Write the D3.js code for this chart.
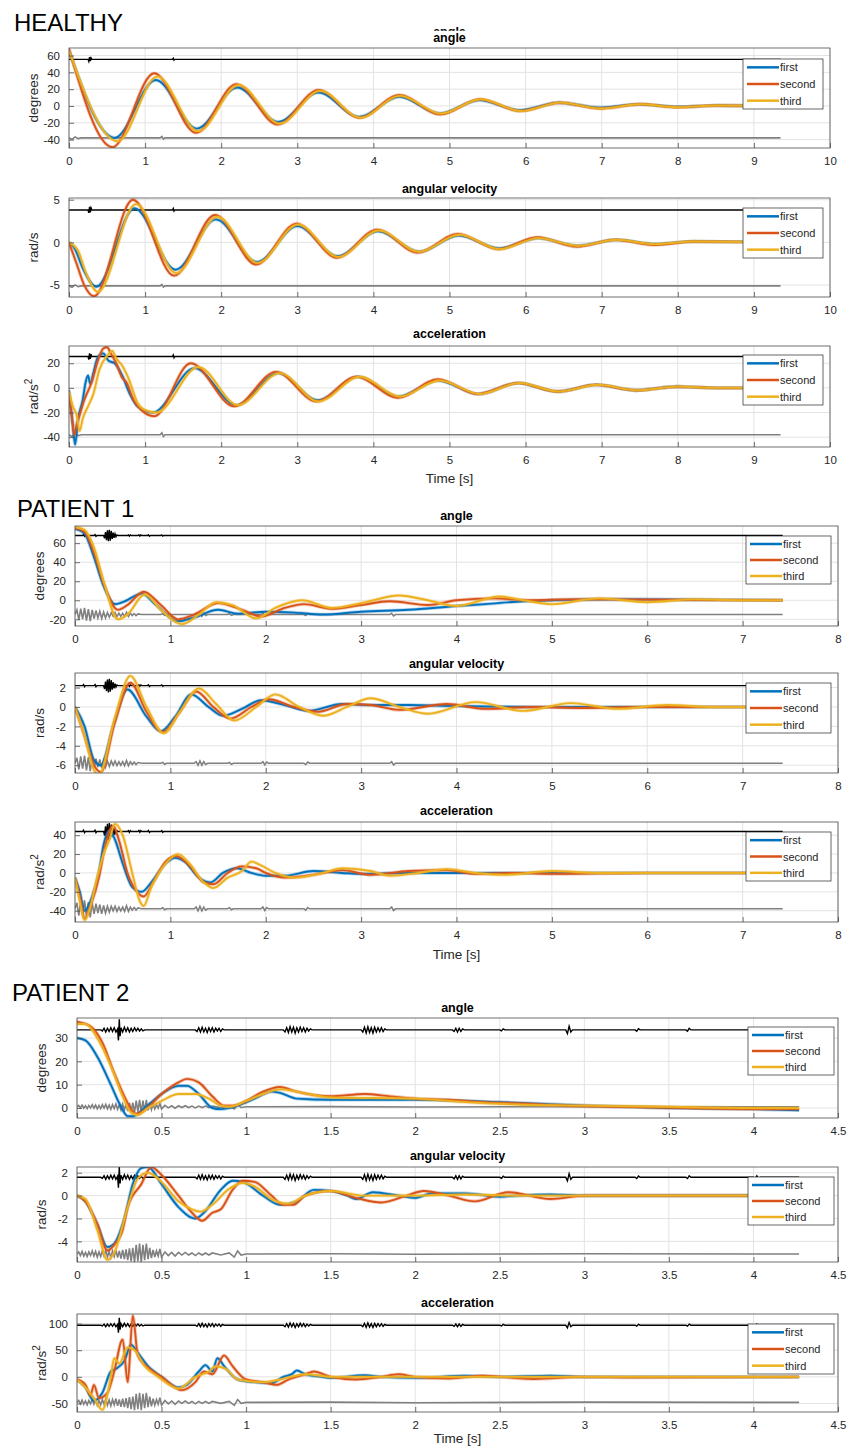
<!DOCTYPE html>
<html>
<head>
<meta charset="utf-8">
<script src="https://cdn.jsdelivr.net/npm/d3@7"></script>
<style>
  body { margin: 0; background: #fff; }
  svg { display: block; font-family: "Liberation Sans", Arial, sans-serif; }
</style>
</head>
<body>
<div id="chart"></div>
<script>
// ---- series names / colours
const seriesNames = ["first", "second", "third"];
const seriesColors = ["#0072BD", "#D95319", "#EDB120"];

// ---- HEALTHY  [time s, value]
const hAngleFirst  = [[0,66],[0.6,-38],[1.14,31],[1.68,-27],[2.21,22],[2.75,-19],[3.28,16],[3.81,-13],[4.34,11],[4.87,-9],[5.39,7],[5.92,-5],[6.44,4],[6.97,-2],[7.48,2],[8.0,-1],[8.5,0.5],[9.35,0]];
const hAngleSecond = [[0,68],[0.57,-49],[1.12,39],[1.67,-32],[2.2,26],[2.74,-22],[3.28,19],[3.82,-14],[4.34,13],[4.88,-10],[5.4,8],[5.93,-6],[6.45,4],[6.98,-3],[7.5,2],[8.0,-1.5],[8.5,0.5],[9.35,0]];
const hAngleThird  = [[0,66],[0.64,-42],[1.16,35],[1.7,-30],[2.23,25],[2.77,-21],[3.3,18],[3.83,-14],[4.35,12],[4.89,-9],[5.41,8],[5.94,-6],[6.46,4],[6.99,-3],[7.5,2],[8.0,-1.5],[8.5,0.5],[9.35,0]];

const hVelFirst  = [[0,0],[0.08,-0.8],[0.18,-3],[0.36,-5.2],[0.86,4.0],[1.4,-3.2],[1.93,2.7],[2.47,-2.3],[3.0,1.9],[3.53,-1.6],[4.06,1.3],[4.6,-1.1],[5.12,0.8],[5.65,-0.7],[6.17,0.5],[6.68,-0.4],[7.2,0.3],[7.7,-0.2],[8.2,0.1],[9.35,0]];
const hVelSecond = [[0,0],[0.1,-2.5],[0.2,-5.0],[0.33,-6.3],[0.84,5.0],[1.38,-3.9],[1.92,3.2],[2.46,-2.6],[2.99,2.2],[3.52,-1.8],[4.05,1.5],[4.58,-1.2],[5.11,1.0],[5.64,-0.8],[6.15,0.6],[6.67,-0.5],[7.18,0.3],[7.7,-0.3],[8.2,0.1],[9.35,0]];
const hVelThird  = [[0,0],[0.12,-1.0],[0.22,-3.5],[0.38,-5.8],[0.88,4.5],[1.41,-3.6],[1.95,3.0],[2.48,-2.4],[3.01,2.1],[3.54,-1.7],[4.07,1.4],[4.6,-1.1],[5.13,0.9],[5.66,-0.8],[6.17,0.5],[6.69,-0.4],[7.2,0.3],[7.7,-0.2],[8.2,0.1],[9.35,0]];

const hAccFirst  = [[0,-2],[0.05,-30],[0.08,-46],[0.12,-25],[0.18,-10],[0.22,5],[0.25,10],[0.28,3],[0.32,12],[0.38,25],[0.45,28],[0.52,22],[0.6,20],[0.7,10],[0.8,-5],[0.9,-15],[1.1,-20],[1.65,16],[2.2,-14],[2.75,12],[3.27,-10],[3.8,9],[4.33,-7],[4.85,6],[5.38,-5],[5.9,4],[6.42,-3],[6.93,2.5],[7.45,-2],[7.98,1],[8.5,0],[9.35,0]];
const hAccSecond = [[0,-5],[0.04,-25],[0.07,-38],[0.1,-30],[0.15,-20],[0.2,-10],[0.3,5],[0.38,22],[0.45,32],[0.5,33],[0.55,28],[0.62,20],[0.7,8],[0.75,5],[0.85,-10],[0.95,-18],[1.12,-23],[1.6,20],[2.17,-15],[2.72,13],[3.25,-11],[3.78,9],[4.32,-8],[4.85,7],[5.37,-5],[5.9,4],[6.42,-3],[6.93,2.5],[7.45,-2],[8.0,1],[8.5,0],[9.35,0]];
const hAccThird  = [[0,-3],[0.05,-15],[0.1,-22],[0.14,-35],[0.18,-25],[0.25,-15],[0.32,-5],[0.4,15],[0.5,26],[0.57,30],[0.62,24],[0.7,18],[0.78,8],[0.9,-12],[1.0,-18],[1.15,-20],[1.7,17],[2.22,-14],[2.77,12],[3.28,-11],[3.82,9],[4.35,-7],[4.87,6],[5.4,-5],[5.92,4],[6.43,-3],[6.95,2.5],[7.47,-2],[8.0,1],[8.5,0],[9.35,0]];

// ---- PATIENT 1
const p1AngleFirst  = [[0,75],[0.1,70],[0.2,45],[0.3,15],[0.42,-4],[0.5,-2],[0.7,7],[0.85,-5],[1.08,-22],[1.25,-18],[1.5,-10],[1.7,-14],[2.0,-12],[2.3,-13],[2.6,-15],[3.0,-12],[3.5,-10],[4.0,-6],[4.3,-4],[4.7,-1],[5.0,0],[5.5,1],[6.0,1],[7.42,0]];
const p1AngleSecond = [[0,76],[0.1,72],[0.2,50],[0.3,18],[0.45,-10],[0.55,-5],[0.72,9],[0.9,-5],[1.08,-20],[1.25,-15],[1.5,-3],[1.75,-10],[1.95,-17],[2.2,-8],[2.4,-4],[2.7,-9],[3.0,-5],[3.3,-1],[3.7,-5],[4.0,0],[4.4,2],[4.8,0],[5.2,1],[5.6,1],[6.2,0.5],[7.42,0]];
const p1AngleThird  = [[0,77],[0.1,74],[0.2,55],[0.3,20],[0.45,-20],[0.55,-15],[0.73,6],[0.9,-10],[1.12,-25],[1.3,-15],[1.48,-2],[1.65,-5],[1.9,-19],[2.1,-8],[2.38,0],[2.7,-8],[3.0,-3],[3.4,5],[3.7,0],[4.0,-6],[4.45,4],[4.7,0],[5.0,-4],[5.5,2],[6.0,-2],[6.5,1],[7.0,0],[7.42,0]];

const p1VelFirst  = [[0,0],[0.1,-2],[0.2,-5.5],[0.27,-6],[0.4,-2],[0.55,1.8],[0.75,-1],[0.9,-2.5],[1.05,-1],[1.22,1.3],[1.4,0],[1.55,-0.9],[1.75,-0.2],[1.95,0.7],[2.2,0.2],[2.45,-0.4],[2.8,0.3],[3.1,0.2],[3.5,0.2],[4.0,0.1],[5.0,0],[7.42,0]];
const p1VelSecond = [[0,0],[0.1,-3],[0.2,-6],[0.27,-6.7],[0.42,-1.5],[0.58,2.5],[0.75,-0.5],[0.92,-2.6],[1.1,-0.5],[1.27,1.6],[1.45,0],[1.63,-1.2],[1.85,0],[2.03,0.8],[2.3,0],[2.55,-0.5],[2.85,0.3],[3.1,0.2],[3.4,-0.3],[3.9,0.3],[4.3,-0.2],[4.8,0],[5.3,-0.1],[6.0,0],[7.42,0]];
const p1VelThird  = [[0,0],[0.1,-3],[0.2,-6.5],[0.25,-7],[0.42,-1],[0.58,3.2],[0.75,0],[0.93,-2.7],[1.1,-0.5],[1.3,1.9],[1.48,0.3],[1.67,-1.4],[1.9,0],[2.1,1.3],[2.35,0],[2.6,-0.9],[2.85,0],[3.1,0.9],[3.4,0],[3.7,-0.7],[4.2,0.5],[4.7,-0.4],[5.2,0.4],[5.7,-0.2],[6.2,0.2],[6.7,0],[7.42,0]];

const p1AccFirst  = [[0,-5],[0.05,-20],[0.1,-40],[0.18,-25],[0.25,0],[0.3,30],[0.36,45],[0.42,35],[0.5,10],[0.6,-15],[0.7,-20],[0.8,-10],[0.95,10],[1.05,16],[1.15,12],[1.3,-5],[1.42,-10],[1.55,0],[1.7,5],[1.85,0],[2.0,-3],[2.2,-3],[2.5,2],[2.8,0],[3.0,-1],[3.5,0],[4.0,0],[5.0,0],[7.42,0]];
const p1AccSecond = [[0,-5],[0.05,-25],[0.1,-48],[0.18,-30],[0.25,-5],[0.32,30],[0.4,50],[0.46,35],[0.55,0],[0.65,-20],[0.72,-25],[0.82,-10],[0.95,12],[1.06,18],[1.2,8],[1.35,-10],[1.45,-12],[1.6,0],[1.75,7],[1.9,5],[2.0,0],[2.2,-5],[2.5,-2],[2.8,3],[3.1,-2],[3.5,2],[3.9,3],[4.2,-1],[4.6,0],[5.0,-1],[6.0,0],[7.42,0]];
const p1AccThird  = [[0,-5],[0.05,-30],[0.1,-50],[0.15,-40],[0.22,-10],[0.3,20],[0.36,35],[0.42,52],[0.5,40],[0.6,0],[0.68,-30],[0.72,-35],[0.8,-15],[0.95,10],[1.08,20],[1.2,10],[1.35,-10],[1.45,-16],[1.6,-5],[1.75,2],[1.85,12],[1.95,8],[2.1,0],[2.3,-5],[2.6,0],[2.8,5],[3.1,2],[3.3,-3],[3.6,0],[3.9,4],[4.2,0],[4.5,-2],[5.0,2],[5.5,0],[6.0,0],[7.42,0]];

// ---- PATIENT 2
const p2AngleFirst  = [[0,30],[0.05,29],[0.12,22],[0.2,10],[0.25,2],[0.3,-3.5],[0.33,-3.5],[0.4,0],[0.5,6],[0.6,9.5],[0.65,9.5],[0.72,6],[0.8,0],[0.85,-0.5],[0.9,0],[1.05,4],[1.15,7],[1.2,6.5],[1.3,4],[1.5,3.5],[2.0,3.5],[2.5,2.5],[3.0,1],[3.5,0],[4.0,-0.5],[4.27,-1]];
const p2AngleSecond = [[0,37],[0.08,35],[0.15,28],[0.22,15],[0.28,5],[0.32,-0.5],[0.35,-2.5],[0.4,-1],[0.5,6],[0.6,11],[0.65,12.5],[0.72,11],[0.8,5],[0.87,1],[0.92,1],[1.0,3],[1.1,7],[1.2,9],[1.3,7],[1.5,5],[1.7,6],[1.85,5],[2.0,4],[2.2,3.5],[2.4,2.5],[2.6,2],[2.9,1],[3.2,0.5],[3.6,0],[4.0,-0.5],[4.27,-0.5]];
const p2AngleThird  = [[0,36],[0.05,36],[0.12,30],[0.2,18],[0.27,5],[0.32,-2],[0.36,-3],[0.42,0],[0.5,3],[0.6,6],[0.7,6],[0.78,4],[0.85,1],[0.9,0.5],[1.0,3],[1.1,6],[1.2,8],[1.3,7],[1.5,4.5],[2.0,4],[2.3,2.5],[2.6,1.5],[3.0,1],[3.5,0.5],[4.0,0],[4.27,0]];

const p2VelFirst  = [[0,0],[0.05,-0.5],[0.12,-2.5],[0.18,-4.5],[0.22,-4.2],[0.28,-2],[0.33,1],[0.38,2.4],[0.42,2.5],[0.5,1],[0.6,-1],[0.7,-2],[0.75,-1.5],[0.85,0.5],[0.92,1.3],[0.98,1.2],[1.1,0],[1.2,-0.8],[1.3,-0.5],[1.4,0.5],[1.5,0.4],[1.6,0],[1.65,-0.3],[1.75,0.3],[1.9,0],[2.0,-0.2],[2.1,0.2],[2.3,0.2],[2.5,-0.1],[2.6,0],[2.8,0.1],[3.0,0],[4.27,0]];
const p2VelSecond = [[0,0],[0.05,-0.5],[0.12,-2.5],[0.18,-4.8],[0.22,-4.3],[0.27,-3],[0.3,-1],[0.38,1],[0.44,2.5],[0.5,1.8],[0.6,0],[0.68,-1.5],[0.74,-2.2],[0.8,-1.5],[0.85,-1.2],[0.92,0.5],[0.98,1.3],[1.05,1.2],[1.15,0],[1.22,-0.8],[1.28,-0.8],[1.35,0],[1.5,0.4],[1.65,-0.2],[1.8,-0.6],[1.95,0],[2.05,0.4],[2.2,0],[2.35,-0.5],[2.55,0.3],[2.8,-0.3],[3.0,0],[3.5,0],[4.27,0]];
const p2VelThird  = [[0,0],[0.05,-0.3],[0.12,-3],[0.18,-5.6],[0.22,-5],[0.3,-1],[0.36,1.5],[0.42,2],[0.5,1.2],[0.6,-0.5],[0.68,-1.2],[0.73,-1.4],[0.8,-0.8],[0.9,0.6],[0.98,1.1],[1.05,0.8],[1.15,-0.3],[1.25,-0.7],[1.35,0],[1.5,0.4],[1.7,0],[2.0,0],[2.3,0.1],[2.6,0],[4.27,0]];

const p2AccFirst  = [[0,-5],[0.05,-20],[0.1,-45],[0.15,-30],[0.2,10],[0.23,15],[0.28,30],[0.32,60],[0.36,45],[0.42,20],[0.5,0],[0.6,-20],[0.65,-15],[0.72,10],[0.76,22],[0.8,10],[0.83,35],[0.87,20],[0.95,-5],[1.05,-10],[1.15,-12],[1.22,0],[1.27,5],[1.3,12],[1.35,5],[1.45,0],[1.5,-2],[1.7,3],[1.8,0],[2.0,-2],[2.3,2],[2.5,0],[2.8,2],[3.0,0],[4.27,0]];
const p2AccSecond = [[0,-5],[0.05,-15],[0.08,-35],[0.1,-15],[0.13,-40],[0.18,-30],[0.22,10],[0.27,70],[0.3,-10],[0.33,115],[0.36,40],[0.43,15],[0.5,0],[0.62,-25],[0.7,-10],[0.75,10],[0.8,5],[0.87,40],[0.92,20],[1.0,-5],[1.1,-10],[1.18,-15],[1.25,-5],[1.35,5],[1.4,10],[1.5,0],[1.65,-5],[1.8,0],[1.9,5],[2.0,0],[2.2,-3],[2.4,2],[2.7,-4],[3.0,0],[3.3,-1],[4.27,0]];
const p2AccThird  = [[0,-5],[0.05,-20],[0.1,-40],[0.15,-62],[0.2,0],[0.22,35],[0.25,25],[0.3,55],[0.34,50],[0.4,20],[0.48,0],[0.6,-22],[0.7,0],[0.78,10],[0.82,20],[0.88,15],[0.95,-5],[1.1,-10],[1.2,-5],[1.35,5],[1.5,0],[1.7,0],[2.0,0],[4.27,0]];

// ---- reference traces (black on top, grey at bottom): shape [t, normalised deviation]
const hTopShape = [[0,0],[0.25,0],[0.26,-1],[0.27,1],[0.28,-0.8],[0.29,0.7],[0.3,0],[1.36,0],[1.37,0.5],[1.38,-0.4],[1.39,0],[9.35,0]];
const hBotShape = [[0,0],[0.04,-0.8],[0.08,0.6],[0.12,-0.4],[0.16,0],[1.2,0],[1.22,0.8],[1.24,-0.7],[1.26,0],[9.35,0]];
const hTopLevel = [55.5, 3.8, 25.5];
const hTopAmp   = [2.5, 0.35, 2.5];
const hBotLevel = [-38, -5.1, -38];
const hBotAmp   = [2, 0.2, 2];

const p1TopShape = [[0,0],[0.08,0],[0.09,0.15],[0.1,-0.15],[0.11,0],[0.2,0],[0.21,0.15],[0.22,-0.15],[0.23,0],[0.3,0],[0.31,-0.5],[0.32,0.6],[0.33,-0.8],[0.34,0.9],[0.35,-1],[0.36,1],[0.37,-0.9],[0.38,0.8],[0.39,-0.6],[0.4,0.5],[0.41,-0.4],[0.42,0.3],[0.43,-0.2],[0.44,0.1],[0.45,0],[0.55,0],[0.56,0.1],[0.57,-0.12],[0.58,0.1],[0.59,0],[0.66,0],[0.67,0.12],[0.68,-0.1],[0.69,0.1],[0.7,0],[0.76,0],[0.77,0.12],[0.78,-0.12],[0.79,0],[0.9,0],[0.91,0.1],[0.92,-0.1],[0.93,0],[7.42,0]];
const p1BotShape = [[0,0],[0.02,0.7],[0.04,-0.8],[0.06,0.9],[0.08,-0.7],[0.1,1],[0.12,-0.9],[0.14,0.8],[0.16,-1],[0.18,0.7],[0.2,-0.6],[0.22,0.6],[0.24,-0.5],[0.26,0.5],[0.28,-0.6],[0.3,0.4],[0.32,-0.5],[0.34,0.3],[0.36,-0.4],[0.38,0.3],[0.4,-0.25],[0.42,0.3],[0.44,-0.3],[0.46,0.2],[0.48,-0.25],[0.5,0.2],[0.52,-0.3],[0.54,0.35],[0.56,-0.3],[0.58,0.2],[0.6,-0.15],[0.62,0.15],[0.64,-0.15],[0.66,0.1],[0.7,0],[0.9,0],[0.92,0.12],[0.94,-0.12],[0.96,0],[1.25,0],[1.27,0.2],[1.29,-0.25],[1.31,0.3],[1.33,-0.25],[1.35,0.2],[1.37,-0.15],[1.39,0],[1.6,0],[1.62,0.12],[1.64,-0.12],[1.66,0],[1.95,0],[1.97,0.2],[1.99,-0.2],[2.01,0.15],[2.03,0],[2.4,0],[2.42,-0.15],[2.44,0.15],[2.46,0],[3.3,0],[3.32,0.2],[3.34,-0.2],[3.36,0],[7.42,0]];
const p1TopLevel = [68, 2.2, 44];
const p1TopAmp   = [6, 0.7, 9];
const p1BotLevel = [-15, -5.8, -38];
const p1BotAmp   = [7, 0.8, 9];

const p2TopShape = [[0,0],[0.14,0],[0.15,-0.1],[0.16,0.15],[0.17,-0.2],[0.18,0.15],[0.19,-0.15],[0.2,0.2],[0.21,-0.15],[0.22,0.2],[0.23,-0.2],[0.24,0.1],[0.245,-1],[0.25,1],[0.255,-0.6],[0.26,0.2],[0.27,-0.2],[0.28,0.25],[0.29,-0.15],[0.3,0.2],[0.31,-0.2],[0.32,0.15],[0.33,-0.15],[0.34,0.2],[0.35,-0.1],[0.36,0.15],[0.37,-0.1],[0.38,0.1],[0.39,-0.1],[0.4,0],[0.7,0],[0.71,-0.15],[0.72,0.2],[0.73,-0.2],[0.74,0.25],[0.75,-0.2],[0.76,0.15],[0.77,-0.25],[0.78,0.2],[0.79,-0.15],[0.8,0.2],[0.81,-0.2],[0.82,0.15],[0.83,-0.1],[0.84,0.15],[0.85,-0.15],[0.86,0.1],[0.87,0],[1.22,0],[1.23,-0.2],[1.24,0.2],[1.25,-0.25],[1.26,0.3],[1.27,-0.2],[1.28,0.25],[1.29,-0.3],[1.3,0.2],[1.31,-0.2],[1.32,0.25],[1.33,-0.15],[1.34,0.2],[1.35,-0.2],[1.36,0.15],[1.37,-0.1],[1.38,0.1],[1.39,0],[1.68,0],[1.69,-0.2],[1.7,0.25],[1.71,-0.3],[1.72,0.3],[1.73,-0.25],[1.74,0.2],[1.75,-0.3],[1.76,0.25],[1.77,-0.2],[1.78,0.2],[1.79,-0.15],[1.8,0.2],[1.81,-0.15],[1.82,0.1],[1.83,0],[2.22,0],[2.23,-0.15],[2.24,0.15],[2.25,-0.2],[2.26,0.15],[2.27,-0.15],[2.28,0.1],[2.29,0],[2.5,0],[2.51,-0.1],[2.52,0.1],[2.53,0],[2.89,0],[2.9,-0.35],[2.91,0.35],[2.92,-0.2],[2.93,0],[3.3,0],[3.31,-0.12],[3.32,0.12],[3.33,0],[3.6,0],[3.61,-0.12],[3.62,0.15],[3.63,0],[4.0,0],[4.01,-0.12],[4.02,0.15],[4.03,-0.1],[4.04,0],[4.27,0]];
const p2BotShape = [[0,0],[0.01,0.2],[0.02,-0.15],[0.03,0.25],[0.04,-0.2],[0.05,0.15],[0.06,-0.25],[0.07,0.2],[0.08,-0.15],[0.09,0.3],[0.1,-0.2],[0.11,0.25],[0.12,-0.3],[0.13,0.2],[0.14,-0.25],[0.15,0.3],[0.16,-0.2],[0.17,0.35],[0.18,-0.3],[0.19,0.25],[0.2,-0.35],[0.21,0.3],[0.22,-0.25],[0.23,0.4],[0.24,-0.35],[0.25,0.3],[0.26,-0.45],[0.27,0.4],[0.28,-0.5],[0.29,0.45],[0.3,-0.6],[0.31,0.55],[0.32,-0.7],[0.33,0.6],[0.34,-0.8],[0.35,0.9],[0.36,-0.7],[0.37,1],[0.38,-0.8],[0.39,0.9],[0.4,-0.6],[0.41,1],[0.42,-0.5],[0.43,0.6],[0.44,-0.4],[0.45,0.4],[0.46,-0.3],[0.47,0.3],[0.48,-0.2],[0.49,0.5],[0.5,-0.3],[0.52,0.2],[0.54,-0.15],[0.56,0.15],[0.58,-0.2],[0.6,0.15],[0.62,-0.1],[0.64,0.15],[0.66,-0.1],[0.68,0.1],[0.7,-0.15],[0.72,0.1],[0.74,-0.1],[0.76,0.1],[0.78,-0.1],[0.8,0.1],[0.85,-0.1],[0.9,0.1],[0.93,-0.3],[0.95,0.3],[0.97,-0.1],[1.0,0],[1.5,0.03],[2.0,-0.03],[3.0,0.03],[4.27,0]];
const p2TopLevel = [33.5, 1.6, 97];
const p2TopAmp   = [4.5, 0.9, 14];
const p2BotLevel = [0.5, -5.1, -48];
const p2BotAmp   = [3, 0.9, 18];

// ---- axes
const titles = ["angle", "angular velocity", "acceleration"];
const yLabels = ["degrees", "rad/s", "rad/s2"];
const hXTicks  = d3.range(0, 10.5, 1);
const p1XTicks = d3.range(0, 8.5, 1);
const p2XTicks = d3.range(0, 4.75, 0.5);
const hYTicks  = [[-40,-20,0,20,40,60], [-5,0,5], [-40,-20,0,20]];
const p1YTicks = [[-20,0,20,40,60], [-6,-4,-2,0,2], [-40,-20,0,20,40]];
const p2YTicks = [[0,10,20,30], [-4,-2,0,2], [-50,0,50,100]];
const hYDomains  = [[-50,69], [-6.4,5.2], [-48,34]];
const p1YDomains = [[-27,78], [-6.8,3.5], [-52,54]];
const p2YDomains = [[-4.3,38.6], [-5.8,2.5], [-66,118]];

// ---- layout table
const sections = [
  { name: "HEALTHY", nameX: 14, nameY: 31, left: 69, right: 830, xMax: 10, xTicks: hXTicks, timeY: 483,
    legX: 743, legW: 80,
    plots: [
      { top: 48,  bottom: 148, titleY: 42,  legY: 59,  legH: 50, y: hYDomains[0], yt: hYTicks[0], s: [hAngleFirst, hAngleSecond, hAngleThird], topShape: hTopShape, botShape: hBotShape, tl: hTopLevel[0], ta: hTopAmp[0], bl: hBotLevel[0], ba: hBotAmp[0] },
      { top: 198, bottom: 297, titleY: 193, legY: 208, legH: 50, y: hYDomains[1], yt: hYTicks[1], s: [hVelFirst, hVelSecond, hVelThird], topShape: hTopShape, botShape: hBotShape, tl: hTopLevel[1], ta: hTopAmp[1], bl: hBotLevel[1], ba: hBotAmp[1] },
      { top: 346, bottom: 447, titleY: 338, legY: 355, legH: 50, y: hYDomains[2], yt: hYTicks[2], s: [hAccFirst, hAccSecond, hAccThird], topShape: hTopShape, botShape: hBotShape, tl: hTopLevel[2], ta: hTopAmp[2], bl: hBotLevel[2], ba: hBotAmp[2] }
    ] },
  { name: "PATIENT 1", nameX: 17, nameY: 517, left: 75, right: 838, xMax: 8, xTicks: p1XTicks, timeY: 959,
    legX: 746, legW: 85,
    plots: [
      { top: 526, bottom: 626, titleY: 520, legY: 536, legH: 48, y: p1YDomains[0], yt: p1YTicks[0], s: [p1AngleFirst, p1AngleSecond, p1AngleThird], topShape: p1TopShape, botShape: p1BotShape, tl: p1TopLevel[0], ta: p1TopAmp[0], bl: p1BotLevel[0], ba: p1BotAmp[0] },
      { top: 673, bottom: 773, titleY: 668, legY: 683, legH: 50, y: p1YDomains[1], yt: p1YTicks[1], s: [p1VelFirst, p1VelSecond, p1VelThird], topShape: p1TopShape, botShape: p1BotShape, tl: p1TopLevel[1], ta: p1TopAmp[1], bl: p1BotLevel[1], ba: p1BotAmp[1] },
      { top: 822, bottom: 922, titleY: 815, legY: 832, legH: 49, y: p1YDomains[2], yt: p1YTicks[2], s: [p1AccFirst, p1AccSecond, p1AccThird], topShape: p1TopShape, botShape: p1BotShape, tl: p1TopLevel[2], ta: p1TopAmp[2], bl: p1BotLevel[2], ba: p1BotAmp[2] }
    ] },
  { name: "PATIENT 2", nameX: 12, nameY: 1001, left: 77, right: 838, xMax: 4.5, xTicks: p2XTicks, timeY: 1443,
    legX: 748, legW: 86,
    plots: [
      { top: 1018, bottom: 1118, titleY: 1012, legY: 1027, legH: 48, y: p2YDomains[0], yt: p2YTicks[0], s: [p2AngleFirst, p2AngleSecond, p2AngleThird], topShape: p2TopShape, botShape: p2BotShape, tl: p2TopLevel[0], ta: p2TopAmp[0], bl: p2BotLevel[0], ba: p2BotAmp[0] },
      { top: 1167, bottom: 1262, titleY: 1160, legY: 1177, legH: 48, y: p2YDomains[1], yt: p2YTicks[1], s: [p2VelFirst, p2VelSecond, p2VelThird], topShape: p2TopShape, botShape: p2BotShape, tl: p2TopLevel[1], ta: p2TopAmp[1], bl: p2BotLevel[1], ba: p2BotAmp[1] },
      { top: 1314, bottom: 1412, titleY: 1307, legY: 1324, legH: 50, y: p2YDomains[2], yt: p2YTicks[2], s: [p2AccFirst, p2AccSecond, p2AccThird], topShape: p2TopShape, botShape: p2BotShape, tl: p2TopLevel[2], ta: p2TopAmp[2], bl: p2BotLevel[2], ba: p2BotAmp[2] }
    ] }
];

const W = 852, H = 1455;
const svg = d3.select("#chart").append("svg").attr("width", W).attr("height", H);
const defs = svg.append("defs");
const textColor = "#262626";
let clipId = 0;

sections.forEach(sec => {
  svg.append("text")
    .attr("x", sec.nameX).attr("y", sec.nameY)
    .attr("font-size", 24).attr("fill", "#000")
    .text(sec.name);

  const x = d3.scaleLinear().domain([0, sec.xMax]).range([sec.left, sec.right]);

  sec.plots.forEach((p, i) => {
    const y = d3.scaleLinear().domain(p.y).range([p.bottom, p.top]);
    const g = svg.append("g");

    // grid
    g.selectAll(".gx").data(sec.xTicks).enter().append("line")
      .attr("x1", d => x(d)).attr("x2", d => x(d))
      .attr("y1", p.top).attr("y2", p.bottom)
      .attr("stroke", "#e3e3e3").attr("stroke-width", 1);
    g.selectAll(".gy").data(p.yt).enter().append("line")
      .attr("x1", sec.left).attr("x2", sec.right)
      .attr("y1", d => y(d)).attr("y2", d => y(d))
      .attr("stroke", "#e3e3e3").attr("stroke-width", 1);

    // clip
    const id = "clip" + (clipId++);
    defs.append("clipPath").attr("id", id).append("rect")
      .attr("x", sec.left).attr("y", p.top)
      .attr("width", sec.right - sec.left).attr("height", p.bottom - p.top);
    const plotArea = g.append("g").attr("clip-path", `url(#${id})`);

    // reference traces
    const lin = d3.line().x(d => x(d[0])).y(d => y(d[1]));
    const topPts = p.topShape.map(d => [d[0], p.tl + p.ta * d[1]]);
    const botPts = p.botShape.map(d => [d[0], p.bl + p.ba * d[1]]);
    plotArea.append("path").attr("d", lin(botPts))
      .attr("fill", "none").attr("stroke", "#808080").attr("stroke-width", 1.6);
    plotArea.append("path").attr("d", lin(topPts))
      .attr("fill", "none").attr("stroke", "#000").attr("stroke-width", 1.4);

    // series
    const curve = d3.line().curve(d3.curveMonotoneX).x(d => x(d[0])).y(d => y(d[1]));
    p.s.forEach((data, k) => {
      plotArea.append("path").attr("d", curve(data))
        .attr("fill", "none").attr("stroke", seriesColors[k])
        .attr("stroke-width", 3.6).attr("stroke-opacity", 0.3);
      plotArea.append("path").attr("d", curve(data))
        .attr("fill", "none").attr("stroke", seriesColors[k])
        .attr("stroke-width", 1.9);
    });

    // box and axes
    g.append("rect")
      .attr("x", sec.left).attr("y", p.top)
      .attr("width", sec.right - sec.left).attr("height", p.bottom - p.top)
      .attr("fill", "none").attr("stroke", "#4d4d4d").attr("stroke-width", 0.8);

    const xAxis = d3.axisBottom(x).tickValues(sec.xTicks).tickSize(-5).tickPadding(9).tickFormat(d => String(d));
    const xa = g.append("g").attr("transform", `translate(0,${p.bottom})`).call(xAxis);
    const yAxis = d3.axisLeft(y).tickValues(p.yt).tickSize(-5).tickPadding(9).tickFormat(d => String(d));
    const ya = g.append("g").attr("transform", `translate(${sec.left},0)`).call(yAxis);
    [xa, ya].forEach(a => {
      a.select(".domain").remove();
      a.selectAll("line").attr("stroke", "#4d4d4d").attr("stroke-width", 0.8);
      a.selectAll("text").attr("fill", textColor).attr("font-size", 11.5)
        .attr("font-family", '"Liberation Sans", Arial, sans-serif');
    });

    // title
    const cx = (sec.left + sec.right) / 2;
    g.append("text").attr("x", cx).attr("y", p.titleY)
      .attr("text-anchor", "middle").attr("font-weight", "bold")
      .attr("font-size", 12.5).attr("fill", "#000").text(titles[i]);

    // duplicated, half hidden title above the first healthy plot
    if (sec.name === "HEALTHY" && i === 0) {
      defs.append("clipPath").attr("id", "titleClip").append("rect")
        .attr("x", 0).attr("y", 0).attr("width", W).attr("height", 30.7);
      g.append("text").attr("x", cx).attr("y", 35.7)
        .attr("clip-path", "url(#titleClip)")
        .attr("text-anchor", "middle").attr("font-weight", "bold")
        .attr("font-size", 12.5).attr("fill", "#000").text(titles[i]);
    }

    // y label
    const lbl = g.append("text")
      .attr("transform", `translate(${sec.left - 31},${(p.top + p.bottom) / 2}) rotate(-90)`)
      .attr("text-anchor", "middle").attr("font-size", 13.5).attr("fill", textColor);
    if (yLabels[i] === "rad/s2") {
      lbl.append("tspan").text("rad/s");
      lbl.append("tspan").attr("dy", -6).attr("font-size", 10).text("2");
    } else {
      lbl.text(yLabels[i]);
    }

    // legend
    const lg = g.append("g").attr("transform", `translate(${sec.legX},${p.legY})`);
    lg.append("rect").attr("width", sec.legW).attr("height", p.legH)
      .attr("fill", "#fff").attr("stroke", "#262626").attr("stroke-width", 0.7);
    seriesNames.forEach((n, k) => {
      const ry = p.legH * (k * 2 + 1) / 6;
      lg.append("line").attr("x1", 4).attr("x2", 36).attr("y1", ry).attr("y2", ry)
        .attr("stroke", seriesColors[k]).attr("stroke-width", 2.5);
      lg.append("text").attr("x", 37).attr("y", ry + 4)
        .attr("font-size", 11).attr("fill", textColor).text(n);
    });
  });

  // x label under the last plot
  svg.append("text")
    .attr("x", (sec.left + sec.right) / 2).attr("y", sec.timeY)
    .attr("text-anchor", "middle").attr("font-size", 13.5).attr("fill", textColor)
    .text("Time [s]");
});
</script>
</body>
</html>
